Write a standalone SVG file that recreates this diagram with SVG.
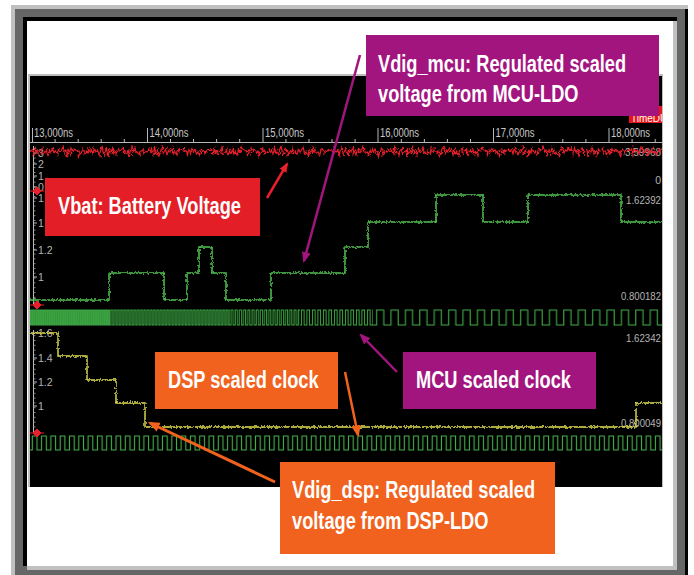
<svg xmlns="http://www.w3.org/2000/svg" width="694" height="575" viewBox="0 0 694 575">
<style>
.callout{font-family:"Liberation Sans",Arial,sans-serif;font-weight:bold;font-size:24px;fill:#ffffff;}
.ax{font-family:"Liberation Sans",Arial,sans-serif;font-size:12px;fill:#c8c8c8;}
.val{font-family:"Liberation Sans",Arial,sans-serif;font-size:10.5px;fill:#b4b4b4;}
.conn{fill:none;}
.grid{stroke:#b8b8b8;stroke-width:1;fill:none;}
</style>
<defs>
<marker id="ahR" viewBox="0 0 10 8" refX="8" refY="4" markerWidth="10" markerHeight="8" markerUnits="userSpaceOnUse" orient="auto"><path d="M0,0 L10,4 L0,8 z" fill="#e8202a"/></marker>
<marker id="ahM" viewBox="0 0 10 8" refX="8" refY="4" markerWidth="11" markerHeight="9" markerUnits="userSpaceOnUse" orient="auto"><path d="M0,0 L10,4 L0,8 z" fill="#a3157e"/></marker>
<marker id="ahO" viewBox="0 0 10 8" refX="8" refY="4" markerWidth="12" markerHeight="10" markerUnits="userSpaceOnUse" orient="auto"><path d="M0,0 L10,4 L0,8 z" fill="#f0621e"/></marker>
<pattern id="cA" patternUnits="userSpaceOnUse" x="30" y="0" width="2.2" height="575"><path d="M0,325 H0.55 V310 H1.65 V325 H2.2" fill="none" stroke="#3fae45" stroke-width="1"/></pattern>
<pattern id="cB" patternUnits="userSpaceOnUse" x="110" y="0" width="3.3" height="575"><path d="M0,325 H0.8 V310 H2.5 V325 H3.3" fill="none" stroke="#3fae45" stroke-width="1"/></pattern>
<pattern id="cC" patternUnits="userSpaceOnUse" x="230" y="0" width="4.2" height="575"><path d="M0,325 H1 V310 H3.1 V325 H4.2" fill="none" stroke="#3fae45" stroke-width="1"/></pattern>
<pattern id="cD" patternUnits="userSpaceOnUse" x="300" y="0" width="5.5" height="575"><path d="M0,325 H1.4 V310 H4.1 V325 H5.5" fill="none" stroke="#3fae45" stroke-width="1"/></pattern>
<pattern id="cE" patternUnits="userSpaceOnUse" x="373" y="0" width="14.4" height="575"><path d="M0,325 H3.6 V310 H10.8 V325 H14.4" fill="none" stroke="#3fae45" stroke-width="1.1"/></pattern>
<pattern id="cF" patternUnits="userSpaceOnUse" x="30" y="0" width="9.3" height="575"><path d="M0,450 H2.3 V436 H7 V450 H9.3" fill="none" stroke="#46b04a" stroke-width="1.1"/></pattern>
<pattern id="rz" patternUnits="userSpaceOnUse" x="30" y="0" width="60" height="575"><path d="M0,152 L1.5,149 L3,154 L4.5,148 L6,153 L7.5,150 L9,155 L10.5,151 L12,147 L13.5,154 L15,152 L16.5,149 L18,156 L19.5,150 L21,153 L22.5,148 L24,154 L25.5,151 L27,155 L28.5,149 L30,152 L31.5,150 L33,147 L34.5,153 L36,151 L37.5,155 L39,150 L40.5,154 L42,148 L43.5,152 L45,149 L46.5,153 L48,151 L49.5,156 L51,150 L52.5,148 L54,154 L55.5,151 L57,152 L58.5,149 L60,152" fill="none" stroke="#e8202a" stroke-width="1.2"/></pattern>
<pattern id="tk" patternUnits="userSpaceOnUse" x="0" y="148" width="10" height="4.8"><path d="M0,0.5 H10" stroke="#a8a8a8" stroke-width="0.8"/></pattern>
<filter id="nR" filterUnits="userSpaceOnUse" x="25" y="138" width="645" height="28" color-interpolation-filters="sRGB">
<feTurbulence type="fractalNoise" baseFrequency="0.08 0.2" numOctaves="2" seed="4" result="t"/>
<feDisplacementMap in="SourceGraphic" in2="t" scale="6" xChannelSelector="R" yChannelSelector="G"/>
</filter>
<filter id="nG" filterUnits="userSpaceOnUse" x="25" y="180" width="645" height="290" color-interpolation-filters="sRGB">
<feTurbulence type="fractalNoise" baseFrequency="0.6 0.4" numOctaves="2" seed="7" result="t"/>
<feDisplacementMap in="SourceGraphic" in2="t" scale="4" xChannelSelector="B" yChannelSelector="G"/>
</filter>
<clipPath id="tdClip"><rect x="629" y="106" width="33" height="17"/></clipPath>
</defs>

<g id="frame">
<rect x="0" y="0" width="694" height="575" fill="#ffffff"/>
<rect x="11" y="5" width="677" height="570" fill="#c0c0c0"/>
<rect x="15" y="9" width="673" height="566" fill="#666666"/>
<rect x="685" y="9" width="3" height="566" fill="#000000"/>
<rect x="23" y="17" width="654" height="549" fill="#000000"/>
<rect x="27" y="21" width="650" height="549" fill="#c0c0c0"/>
<rect x="27" y="21" width="646" height="545" fill="#ffffff"/>
</g>

<g id="scope">
<rect x="28" y="74" width="635" height="413" fill="#bdbdbd"/>
<rect x="30" y="76" width="632" height="411" fill="#000000"/>
<rect x="629" y="106" width="33" height="17" fill="#e8141c"/>
<text x="631" y="122" clip-path="url(#tdClip)" style="font-family:'Liberation Sans',Arial,sans-serif;font-size:10px;fill:#ffffff;">TimeDU</text>
<path class="grid" d="M30,142.5 H662 M32.5,128 V142 M147.5,128 V142 M263,128 V142 M378,128 V142 M493.5,128 V142 M609,128 V142"/>
<path class="grid" d="M55.1,139 V142 M78.2,139 V142 M101.2,139 V142 M124.3,139 V142 M170.5,139 V142 M193.5,139 V142 M216.6,139 V142 M239.7,139 V142 M285.9,139 V142 M309,139 V142 M332,139 V142 M355.1,139 V142 M401.3,139 V142 M424.4,139 V142 M447.4,139 V142 M470.5,139 V142 M516.7,139 V142 M539.7,139 V142 M562.8,139 V142 M585.9,139 V142 M632.1,139 V142 M655.2,139 V142"/>
<text class="ax" x="34" y="137" textLength="39" lengthAdjust="spacingAndGlyphs">13,000ns</text>
<text class="ax" x="149.5" y="137" textLength="39" lengthAdjust="spacingAndGlyphs">14,000ns</text>
<text class="ax" x="265" y="137" textLength="39" lengthAdjust="spacingAndGlyphs">15,000ns</text>
<text class="ax" x="380" y="137" textLength="39" lengthAdjust="spacingAndGlyphs">16,000ns</text>
<text class="ax" x="495.5" y="137" textLength="39" lengthAdjust="spacingAndGlyphs">17,000ns</text>
<text class="ax" x="611" y="137" textLength="39" lengthAdjust="spacingAndGlyphs">18,000ns</text>

<path class="grid" d="M33.5,146 V306 M33.5,330 V434"/>
<rect x="33" y="148" width="2.5" height="158" fill="url(#tk)"/>
<rect x="33" y="331" width="2.5" height="103" fill="url(#tk)"/>
<path class="grid" d="M33,153 h4 M33,164 h4 M33,176 h4 M33,187 h4 M33,198 h4 M33,223 h4 M33,250 h4 M33,277 h4 M33,333 h4 M33,358 h4 M33,382 h4 M33,406 h4"/>
<text class="val" x="38" y="157">3</text>
<text class="val" x="38" y="168">2</text>
<text class="val" x="38" y="180">1</text>
<text class="val" x="38" y="191">0</text>
<text class="val" x="38" y="202">1</text>
<text class="val" x="38" y="227">1</text>
<text class="val" x="38" y="254">1.2</text>
<text class="val" x="38" y="281">1</text>
<text class="val" x="38" y="337">1.6</text>
<text class="val" x="38" y="362">1.4</text>
<text class="val" x="38" y="386">1.2</text>
<text class="val" x="38" y="410">1</text>

<text class="val" x="661" y="156" text-anchor="end" textLength="36" lengthAdjust="spacingAndGlyphs">3.59968</text>
<text class="val" x="661" y="184" text-anchor="end">0</text>
<text class="val" x="661" y="204" text-anchor="end" textLength="35" lengthAdjust="spacingAndGlyphs">1.62392</text>
<text class="val" x="661" y="300" text-anchor="end" textLength="40" lengthAdjust="spacingAndGlyphs">0.800182</text>
<text class="val" x="661" y="342" text-anchor="end" textLength="35" lengthAdjust="spacingAndGlyphs">1.62342</text>
<text class="val" x="661" y="427" text-anchor="end" textLength="40" lengthAdjust="spacingAndGlyphs">0.800049</text>

<rect x="30" y="143" width="632" height="18" fill="url(#rz)" filter="url(#nR)"/>
<path d="M30,300 H109 V273 H164 V300 H187 V273 H199 V247 H212 V273 H226 V300 H271 V273 H345 V247 H368 V222 H436 V195 H483 V222 H528 V195 H621 V222 H662" stroke="#52c852" stroke-width="1.5" fill="none" filter="url(#nG)"/>
<rect x="30" y="309" width="80" height="17" fill="url(#cA)"/>
<rect x="110" y="309" width="120" height="17" fill="url(#cB)"/>
<rect x="230" y="309" width="70" height="17" fill="url(#cC)"/>
<rect x="300" y="309" width="73" height="17" fill="url(#cD)"/>
<rect x="373" y="309" width="289" height="17" fill="url(#cE)"/>
<path d="M30,333 H58 V356 H87 V380 H116 V403 H145 V427 H636 V403 H662" stroke="#e3e34f" stroke-width="1.4" fill="none" filter="url(#nG)"/>
<rect x="30" y="435" width="632" height="16" fill="url(#cF)"/>

<g fill="#e8202a" stroke="#e8202a" stroke-width="1">
<path d="M33,191 L37,187 L41,191 L37,195 Z M30,191 H44"/>
<path d="M33,305 L37,301 L41,305 L37,309 Z M30,305 H44"/>
<path d="M33,433 L37,429 L41,433 L37,437 Z M30,433 H44"/>
</g>
</g>

<g id="vbat">
<rect x="45" y="178" width="215" height="58" fill="#e31e26"/>
<text class="callout" transform="translate(58,214) scale(0.76,1)">Vbat: Battery Voltage</text>
</g>
<g id="vdig-mcu">
<rect x="366" y="35" width="293" height="81" fill="#a3157e"/>
<text class="callout" transform="translate(378,72) scale(0.76,1)">Vdig_mcu: Regulated scaled</text>
<text class="callout" transform="translate(378,102) scale(0.76,1)">voltage from MCU-LDO</text>
</g>
<g id="mcu-clock">
<rect x="403" y="352" width="193" height="57" fill="#a3157e"/>
<text class="callout" transform="translate(416,388) scale(0.76,1)">MCU scaled clock</text>
</g>
<g id="dsp-clock">
<rect x="155" y="352" width="183" height="57" fill="#f0621e"/>
<text class="callout" transform="translate(168,388) scale(0.76,1)">DSP scaled clock</text>
</g>
<g id="vdig-dsp">
<rect x="280" y="462" width="275" height="92" fill="#f0621e"/>
<text class="callout" transform="translate(292,498) scale(0.76,1)">Vdig_dsp: Regulated scaled</text>
<text class="callout" transform="translate(292,529) scale(0.76,1)">voltage from DSP-LDO</text>
</g>

<g id="connectors" class="conn">
<path d="M267,198 L287,164" stroke="#e8202a" stroke-width="2.5" marker-end="url(#ahR)"/>
<path d="M360,55 L304,261" stroke="#a3157e" stroke-width="2.5" marker-end="url(#ahM)"/>
<path d="M397,372 L361,335" stroke="#a3157e" stroke-width="2.5" marker-end="url(#ahM)"/>
<path d="M345,372 L358,435" stroke="#f0621e" stroke-width="2.5" marker-end="url(#ahO)"/>
<path d="M275,482 L150,423" stroke="#f0621e" stroke-width="3" marker-end="url(#ahO)"/>
</g>
</svg>
